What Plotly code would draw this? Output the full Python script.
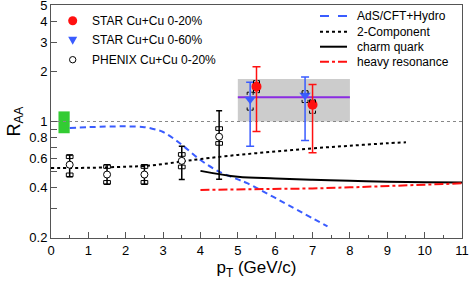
import numpy as np
import plotly.graph_objects as go

# ---------------- data ----------------
phenix_x = [0.5, 1.5, 2.5, 3.5, 4.5]
phenix_y = [0.55, 0.48, 0.48, 0.58, 0.81]
phenix_stat_hi = [0.63, 0.55, 0.55, 0.71, 1.16]
phenix_stat_lo = [0.466, 0.42, 0.42, 0.449, 0.45]
phenix_sys_hi = [0.63, 0.55, 0.55, 0.65, 0.93]
phenix_sys_lo = [0.466, 0.42, 0.42, 0.52, 0.72]

star20_x = [5.5, 7.0]
star20_y = [1.62, 1.26]
star20_stat_hi = [2.13, 1.67]
star20_stat_lo = [0.87, 0.65]
star20_sys_hi = [1.76, 1.35]
star20_sys_lo = [1.49, 1.12]

star60_x = [5.33, 6.8]
star60_y = [1.36, 1.44]
star60_stat_hi = [1.72, 1.85]
star60_stat_lo = [0.71, 0.77]
star60_sys_hi = [1.50, 1.53]
star60_sys_lo = [1.17, 1.30]

avg_x = [5.0, 8.0]
avg_y = 1.40
avg_lo, avg_hi = 1.0, 1.8

norm_x = [0.2, 0.5]
norm_lo, norm_hi = 0.85, 1.15

ads_x = [0.5, 1.0, 1.5, 2.0, 2.5, 2.83, 3.0, 3.45, 4.0, 4.5, 5.0, 5.25, 6.1, 7.4]
ads_y = [0.915, 0.925, 0.932, 0.935, 0.925, 0.89, 0.865, 0.74, 0.587, 0.50, 0.449, 0.426, 0.338, 0.234]

twoc_x = [0, 1, 2, 2.5, 3, 3.5, 4, 5, 6, 7, 8, 9, 9.5]
twoc_y = [0.525, 0.527, 0.535, 0.54, 0.555, 0.575, 0.595, 0.63, 0.66, 0.69, 0.715, 0.74, 0.75]

charm_x = [4, 5, 6, 7, 8, 9, 10, 11]
charm_y = [0.505, 0.465, 0.455, 0.447, 0.44, 0.435, 0.432, 0.43]

heavy_x = [4, 5, 6, 7, 8, 9, 10, 11]
heavy_y = [0.388, 0.39, 0.392, 0.396, 0.402, 0.409, 0.417, 0.425]

y_ticks = [0.2, 0.4, 0.6, 0.8, 1, 2, 3, 4, 5]
y_minor = [0.3, 0.5, 0.7, 0.9]

marker_labels = ["STAR Cu+Cu 0-20%", "STAR Cu+Cu 0-60%", "PHENIX Cu+Cu 0-20%"]
line_labels = ["AdS/CFT+Hydro", "2-Component", "charm quark", "heavy resonance"]

RED = "#ff1010"
BLUE = "#3a5cff"
FONT = "Liberation Sans, Arial, sans-serif"

fig = go.Figure()

# gray box for average
fig.add_trace(go.Scatter(x=[avg_x[0], avg_x[1], avg_x[1], avg_x[0], avg_x[0]],
                         y=[avg_lo, avg_lo, avg_hi, avg_hi, avg_lo],
                         fill="toself", fillcolor="#cccccc", line=dict(width=0),
                         mode="lines", showlegend=False, hoverinfo="skip"))
# normalization box
fig.add_trace(go.Scatter(x=[norm_x[0], norm_x[1], norm_x[1], norm_x[0], norm_x[0]],
                         y=[norm_lo, norm_lo, norm_hi, norm_hi, norm_lo],
                         fill="toself", fillcolor="#33cc33", line=dict(width=0),
                         mode="lines", showlegend=False, hoverinfo="skip"))
# unity line
fig.add_trace(go.Scatter(x=[0, 11], y=[1, 1], mode="lines",
                         line=dict(color="#888888", width=1, dash="dot"),
                         showlegend=False, hoverinfo="skip"))
# average line
fig.add_trace(go.Scatter(x=avg_x, y=[avg_y, avg_y], mode="lines",
                         line=dict(color="#8a2be2", width=2),
                         showlegend=False, hoverinfo="skip"))

# model curves
fig.add_trace(go.Scatter(x=ads_x, y=ads_y, mode="lines", line_shape="spline", name=line_labels[0],
                         line=dict(color=BLUE, width=2, dash="6px,4px"), showlegend=False))
fig.add_trace(go.Scatter(x=twoc_x, y=twoc_y, mode="lines", line_shape="spline", name=line_labels[1],
                         line=dict(color="black", width=2, dash="dot"), showlegend=False))
fig.add_trace(go.Scatter(x=charm_x, y=charm_y, mode="lines", line_shape="spline", name=line_labels[2],
                         line=dict(color="black", width=2), showlegend=False))
fig.add_trace(go.Scatter(x=heavy_x, y=heavy_y, mode="lines", name=line_labels[3],
                         line=dict(color=RED, width=2, dash="dashdot"), showlegend=False))


def brackets(xs, his, los, hw, leg, style):
    bx, by = [], []
    f = 10 ** leg
    for x, hi, lo in zip(xs, his, los):
        if style == "box":
            for yv, s in ((hi, 1), (lo, -1)):
                yi = yv / f if s > 0 else yv * f
                bx += [x - hw, x - hw, x + hw, x + hw, x - hw, None]
                by += [yi, yv, yv, yi, yi, None]
        else:
            for yv, s in ((hi, 1), (lo, -1)):
                yi = yv / f if s > 0 else yv * f
                bx += [x - hw, x - hw, x - hw * 0.4, None, x + hw * 0.4, x + hw, x + hw, None]
                by += [yi, yv, yv, None, yv, yv, yi, None]
    return bx, by


def err(y, hi, lo):
    return [h - v for h, v in zip(hi, y)], [v - l for v, l in zip(y, lo)]


# PHENIX
pu, pd = err(phenix_y, phenix_stat_hi, phenix_stat_lo)
bx, by = brackets(phenix_x, phenix_sys_hi, phenix_sys_lo, 0.09, 0.022, "box")
fig.add_trace(go.Scatter(x=bx, y=by, mode="lines", line=dict(color="black", width=1),
                         showlegend=False, hoverinfo="skip"))
fig.add_trace(go.Scatter(x=phenix_x, y=phenix_y, mode="markers", name=marker_labels[2], showlegend=False,
                         marker=dict(symbol="circle", size=7, color="white", line=dict(width=1, color="black")),
                         error_y=dict(type="data", symmetric=False, array=pu, arrayminus=pd,
                                      color="black", thickness=1.5, width=3)))

# STAR 0-60
u, d = err(star60_y, star60_stat_hi, star60_stat_lo)
fig.add_trace(go.Scatter(x=star60_x, y=star60_y, mode="markers", name=marker_labels[1], showlegend=False,
                         marker=dict(symbol="triangle-down", size=10, color=BLUE),
                         error_y=dict(type="data", symmetric=False, array=u, arrayminus=d,
                                      color=BLUE, thickness=1.5, width=4)))
bx, by = brackets(star60_x, star60_sys_hi, star60_sys_lo, 0.08, 0.016, "corner")
fig.add_trace(go.Scatter(x=bx, y=by, mode="lines", line=dict(color="black", width=1),
                         showlegend=False, hoverinfo="skip"))

# STAR 0-20
u, d = err(star20_y, star20_stat_hi, star20_stat_lo)
fig.add_trace(go.Scatter(x=star20_x, y=star20_y, mode="markers", name=marker_labels[0], showlegend=False,
                         marker=dict(symbol="circle", size=10, color=RED),
                         error_y=dict(type="data", symmetric=False, array=u, arrayminus=d,
                                      color=RED, thickness=1.5, width=4)))
bx, by = brackets(star20_x, star20_sys_hi, star20_sys_lo, 0.08, 0.016, "corner")
fig.add_trace(go.Scatter(x=bx, y=by, mode="lines", line=dict(color="black", width=1),
                         showlegend=False, hoverinfo="skip"))

shapes = []
annotations = []
tfont = dict(size=12, color="black", family=FONT)

# manual marker legend (top-left)
MX, MT = 0.0528, 0.0949
mrows = [0.9326, 0.8485, 0.7652]
for i, (lab, ry) in enumerate(zip(marker_labels, mrows)):
    if i == 0:
        shapes.append(dict(type="circle", xref="paper", yref="paper", xsizemode="pixel", ysizemode="pixel",
                           xanchor=MX, yanchor=ry, x0=-4.5, x1=4.5, y0=-4.5, y1=4.5,
                           fillcolor=RED, line=dict(width=0)))
    elif i == 1:
        shapes.append(dict(type="path", xref="paper", yref="paper", xsizemode="pixel", ysizemode="pixel",
                           xanchor=MX, yanchor=ry, path="M-4.5,3.5 L4.5,3.5 L0,-4.5 Z",
                           fillcolor=BLUE, line=dict(width=0)))
    else:
        shapes.append(dict(type="circle", xref="paper", yref="paper", xsizemode="pixel", ysizemode="pixel",
                           xanchor=MX, yanchor=ry, x0=-3.2, x1=3.2, y0=-3.2, y1=3.2,
                           fillcolor="white", line=dict(width=1, color="black")))
    annotations.append(dict(xref="paper", yref="paper", x=MT, y=ry, text=lab, showarrow=False,
                            xanchor="left", yanchor="middle", font=tfont))

# manual line legend (top-right)
L0, L1, TX = 0.6545, 0.7202, 0.7397
rows = [0.9528, 0.8854, 0.8210, 0.7567]
styles = [(BLUE, "dash"), ("black", "dot"), ("black", "solid"), (RED, "dashdot")]
for lab, (col, dash), ry in zip(line_labels, styles, rows):
    shapes.append(dict(type="line", xref="paper", yref="paper", x0=L0, x1=L1, y0=ry, y1=ry,
                       line=dict(color=col, width=2, dash=dash)))
    annotations.append(dict(xref="paper", yref="paper", x=TX, y=ry, text=lab, showarrow=False,
                            xanchor="left", yanchor="middle", font=tfont))

eps = 0.001
fig.update_layout(
    width=469, height=284,
    margin=dict(l=51, r=7, t=5, b=46),
    paper_bgcolor="white", plot_bgcolor="white",
    font=dict(family=FONT, size=13, color="black"),
    shapes=shapes, annotations=annotations, showlegend=False,
    xaxis=dict(range=[0, 11], dtick=1, tick0=0, ticks="inside", ticklen=6, tickcolor="#555",
               showline=True, linecolor="#555", linewidth=1, mirror=True, showgrid=False, zeroline=False,
               automargin=False, tickfont=dict(size=13), ticklabeloverflow="allow",
               minor=dict(dtick=0.5, ticks="inside", ticklen=3, tickcolor="#555"),
               title=dict(text="p<sub>T</sub> (GeV/c)", font=dict(size=17), standoff=4)),
    yaxis=dict(type="log", range=[np.log10(0.2) - eps, np.log10(5) + eps], tickvals=y_ticks,
               ticktext=[str(t) for t in y_ticks], ticks="inside", ticklen=6, tickcolor="#555",
               showline=True, linecolor="#555", linewidth=1, mirror=True, showgrid=False, zeroline=False,
               automargin=False, tickfont=dict(size=13), ticklabeloverflow="allow",
               minor=dict(tickvals=y_minor, ticks="inside", ticklen=6, tickcolor="#555"),
               title=dict(text="R<sub>AA</sub>", font=dict(size=18), standoff=4)),
)

fig.write_html("out.html", config={"displayModeBar": False},
               post_script="document.body.style.margin='0';document.body.style.padding='0';")
